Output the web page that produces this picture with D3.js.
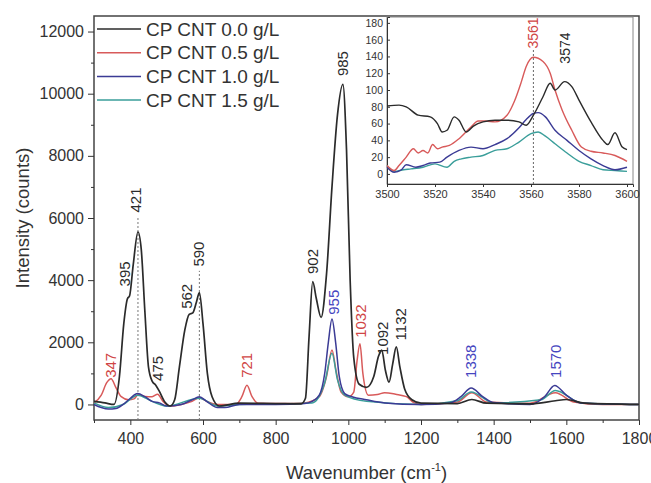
<!DOCTYPE html>
<html>
<head>
<meta charset="utf-8">
<script src="https://cdn.jsdelivr.net/npm/d3@7"></script>
<style>
  body { margin: 0; background: #fff; }
  svg { display: block; font-family: "Liberation Sans", Arial, sans-serif; }
  .axis path, .axis line { stroke: #333; }
  .axis text { fill: #333; }
</style>
</head>
<body>
<svg id="chart" width="651" height="483"></svg>
<script>
// ---- data ----
const seriesNames = ['CP CNT 0.0 g/L', 'CP CNT 0.5 g/L', 'CP CNT 1.0 g/L', 'CP CNT 1.5 g/L'];
const seriesColors = ['#2b2b2b', '#d85a5a', '#3b3b95', '#3a9e9a'];

// main spectra: [wavenumber, counts]
const cnt00 = [[300,100],[330,50],[355,0],[370,900],[382,2600],[392,3400],[398,3500],[408,4500],[421,5550],[430,5000],[440,3000],[450,1200],[460,750],[470,620],[480,420],[495,80],[510,-50],[522,150],[535,1200],[550,2400],[562,2900],[572,2950],[582,3300],[590,3600],[600,2600],[612,1000],[625,250],[645,-50],[700,40],[800,30],[870,20],[882,200],[892,2200],[902,3950],[912,3400],[925,2800],[940,4200],[955,7000],[970,9300],[985,10300],[995,8200],[1005,4000],[1015,1500],[1030,650],[1050,550],[1070,900],[1083,1550],[1092,1750],[1102,1100],[1112,720],[1122,1300],[1132,1850],[1142,1200],[1155,500],[1175,150],[1200,40],[1300,30],[1340,160],[1380,40],[1500,20],[1570,120],[1600,160],[1650,40],[1800,0]];

const cnt05 = [[300,50],[320,300],[335,700],[347,830],[360,550],[375,250],[395,150],[410,180],[422,320],[440,260],[460,250],[475,330],[490,100],[510,-50],[540,0],[570,100],[590,220],[610,100],[640,0],[690,0],[707,250],[721,620],[735,250],[752,40],[800,30],[880,50],[920,250],[940,900],[955,1750],[966,1100],[980,400],[1000,250],[1015,400],[1024,1400],[1032,1950],[1040,1000],[1055,300],[1080,320],[1100,380],[1130,330],[1160,250],[1180,60],[1200,0],[1300,80],[1340,380],[1380,80],[1500,40],[1570,380],[1620,80],[1700,0],[1800,0]];

const cnt10 = [[300,0],[320,-100],[340,-150],[360,-130],[380,0],[400,200],[420,350],[440,250],[460,100],[480,50],[500,-50],[540,0],[570,150],[590,250],[610,100],[640,-100],[660,-100],[700,0],[800,0],[880,30],[900,100],[920,300],[935,1000],[945,2000],[955,2750],[965,2000],[975,900],[990,350],[1010,250],[1050,150],[1100,50],[1200,0],[1280,50],[1310,250],[1338,530],[1370,250],[1400,60],[1500,0],[1540,250],[1568,610],[1600,300],[1640,50],[1800,0]];

const cnt15 = [[300,50],[340,-100],[380,0],[420,300],[460,100],[500,-50],[590,200],[640,-50],[700,0],[900,50],[935,700],[955,1650],[970,800],[990,300],[1050,100],[1200,0],[1300,120],[1338,400],[1400,50],[1530,150],[1570,450],[1640,50],[1800,0]];

// inset spectra (3500-3600 cm-1)
const ins00 = [[3500,81],[3505,82],[3508,80],[3513,70],[3518,68],[3521,60],[3523,50],[3525,52],[3528,68],[3530,64],[3533,50],[3536,57],[3540,62],[3545,64],[3550,64],[3555,62],[3558,58],[3561,70],[3565,92],[3568,108],[3570,100],[3574,110],[3577,104],[3580,88],[3585,62],[3590,40],[3592,35],[3595,49],[3598,32],[3600,29]];
const ins05 = [[3500,10],[3503,4],[3505,10],[3508,20],[3511,30],[3513,25],[3515,28],[3517,25],[3519,35],[3521,30],[3523,32],[3526,34],[3530,42],[3535,56],[3538,63],[3541,63],[3545,62],[3550,70],[3553,86],[3556,110],[3558,128],[3561,139],[3565,134],[3568,120],[3570,100],[3573,76],[3577,52],[3581,32],[3585,27],[3590,25],[3595,22],[3600,15]];
const ins10 = [[3500,8],[3503,2],[3506,5],[3508,11],[3512,8],[3515,10],[3518,13],[3522,14],[3525,20],[3530,28],[3535,32],[3540,30],[3545,35],[3550,42],[3555,55],[3558,65],[3561,72],[3563,73],[3566,68],[3570,52],[3575,40],[3580,28],[3585,18],[3590,10],[3595,5],[3600,8]];
const ins15 = [[3500,10],[3503,3],[3507,5],[3510,6],[3515,8],[3520,12],[3525,8],[3528,15],[3531,18],[3535,20],[3540,22],[3545,28],[3550,30],[3555,38],[3560,48],[3563,50],[3566,45],[3570,36],[3575,25],[3580,15],[3585,10],[3590,5],[3595,4],[3600,3]];

// peak labels: [label wavenumber, counts at label centre, series index, shift in cm-1]
const peakLabels = [[347,1260,1,0],[395,4200,0,-10],[421,6580,0,-5],[475,1160,0,0],[562,3480,0,-8],[590,4840,0,-2],[721,1260,1,0],[902,4600,0,0],[985,10970,0,0],[955,3290,2,6],[1032,2680,1,2],[1092,2130,0,2],[1132,2580,0,12],[1338,1390,2,0],[1570,1390,2,0]];
const peakMarks = [[421,6000],[590,4300]];
const insetPeakLabels = [[3561,168,1],[3574,150,0]];
const insetPeakMark = [3561,150];

const xTicks = [400,600,800,1000,1200,1400,1600,1800];
const yTicks = [0,2000,4000,6000,8000,10000,12000];
const insetXTicks = [3500,3520,3540,3560,3580,3600];
const insetYTicks = [0,20,40,60,80,100,120,140,160,180];

// ---- layout ----
const svg = d3.select('#chart');
const M = { left: 94, right: 639, top: 16, bottom: 420 };

const x = d3.scaleLinear().domain([300, 1800]).range([M.left, M.right]);
const y = d3.scaleLinear().domain([-500, 12500]).range([M.bottom, M.top]);

const labelColors = ['#2b2b2b', '#d04545', '#4545c0', '#3a9e9a'];

// frame
svg.append('rect')
  .attr('x', M.left).attr('y', M.top)
  .attr('width', M.right - M.left).attr('height', M.bottom - M.top)
  .attr('fill', 'none').attr('stroke', '#444').attr('stroke-width', 1.5);

// x axis
const gx = svg.append('g').attr('class', 'axis')
  .attr('transform', `translate(0,${M.bottom})`)
  .call(d3.axisBottom(x).tickValues(xTicks).tickSize(5).tickPadding(8).tickFormat(d3.format('d')));
gx.select('.domain').remove();
gx.selectAll('text').attr('font-size', 16);
svg.append('g').attr('class', 'axis')
  .attr('transform', `translate(0,${M.bottom})`)
  .call(d3.axisBottom(x).tickValues(d3.range(300, 1800, 200)).tickSize(3).tickFormat(''))
  .select('.domain').remove();

// y axis
const gy = svg.append('g').attr('class', 'axis')
  .attr('transform', `translate(${M.left},0)`)
  .call(d3.axisLeft(y).tickValues(yTicks).tickSize(6).tickPadding(4).tickFormat(d3.format('d')));
gy.select('.domain').remove();
gy.selectAll('text').attr('font-size', 16);
svg.append('g').attr('class', 'axis')
  .attr('transform', `translate(${M.left},0)`)
  .call(d3.axisLeft(y).tickValues(d3.range(1000, 12500, 2000)).tickSize(3).tickFormat(''))
  .select('.domain').remove();

// axis titles
svg.append('text')
  .attr('transform', `translate(29,${(M.top + M.bottom) / 2}) rotate(-90)`)
  .attr('text-anchor', 'middle').attr('font-size', 18.5).attr('fill', '#333')
  .text('Intensity (counts)');
const xt = svg.append('text')
  .attr('x', (M.left + M.right) / 2).attr('y', 479)
  .attr('text-anchor', 'middle').attr('font-size', 18.5).attr('fill', '#333');
xt.append('tspan').text('Wavenumber (cm');
xt.append('tspan').attr('font-size', 11).attr('dy', -8).text('-1');
xt.append('tspan').attr('dy', 8).text(')');

// dashed peak markers
svg.selectAll('line.mark').data(peakMarks).join('line')
  .attr('class', 'mark')
  .attr('x1', d => x(d[0])).attr('x2', d => x(d[0]))
  .attr('y1', M.bottom).attr('y2', d => y(d[1]))
  .attr('stroke', '#777').attr('stroke-width', 1).attr('stroke-dasharray', '2,2');

// spectra
const main = [cnt00, cnt05, cnt10, cnt15];
const line = d3.line().x(d => x(d[0])).y(d => y(d[1])).curve(d3.curveMonotoneX);
const drawOrder = [1, 3, 2, 0];
svg.append('g').selectAll('path').data(drawOrder).join('path')
  .attr('d', i => line(main[i]))
  .attr('fill', 'none')
  .attr('stroke', i => seriesColors[i])
  .attr('stroke-width', i => i === 0 ? 1.7 : 1.5);

// peak labels
svg.append('g').selectAll('text').data(peakLabels).join('text')
  .attr('transform', d => `translate(${x(d[0] + d[3])},${y(d[1])}) rotate(-90)`)
  .attr('text-anchor', 'middle').attr('dy', '0.35em')
  .attr('font-size', 15)
  .attr('fill', d => labelColors[d[2]])
  .text(d => d[0]);

// legend
const leg = svg.append('g').selectAll('g').data(seriesNames).join('g')
  .attr('transform', (d, i) => `translate(97,${29 + i * 23.7})`);
leg.append('line').attr('x1', 0).attr('x2', 44)
  .attr('stroke', (d, i) => seriesColors[i]).attr('stroke-width', 1.5);
leg.append('text').attr('x', 49).attr('dy', '0.35em')
  .attr('font-size', 19).attr('fill', '#333')
  .text(d => d);

// ---- inset ----
const I = { left: 387, right: 633, top: 17, bottom: 184 };
const ix = d3.scaleLinear().domain([3500, 3602.5]).range([I.left, I.right]);
const iy = d3.scaleLinear().domain([-12, 187]).range([I.bottom, I.top]);

svg.append('rect')
  .attr('x', I.left).attr('y', I.top)
  .attr('width', I.right - I.left).attr('height', I.bottom - I.top)
  .attr('fill', '#fff').attr('stroke', '#888').attr('stroke-width', 1);

const gix = svg.append('g').attr('class', 'axis')
  .attr('transform', `translate(0,${I.bottom})`)
  .call(d3.axisBottom(ix).tickValues(insetXTicks).tickSize(3).tickPadding(3).tickFormat(d3.format('d')));
gix.select('.domain').attr('stroke', '#666');
gix.selectAll('text').attr('font-size', 11).attr('fill', '#555');
gix.selectAll('line').attr('stroke', '#888');

const giy = svg.append('g').attr('class', 'axis')
  .attr('transform', `translate(${I.left},0)`)
  .call(d3.axisLeft(iy).tickValues(insetYTicks).tickSize(-3).tickPadding(4).tickFormat(d3.format('d')));
giy.select('.domain').attr('stroke', '#999');
giy.selectAll('text').attr('font-size', 10.5).attr('fill', '#555');
giy.selectAll('line').attr('stroke', '#999');

svg.append('line')
  .attr('x1', ix(insetPeakMark[0])).attr('x2', ix(insetPeakMark[0]))
  .attr('y1', I.bottom).attr('y2', iy(insetPeakMark[1]))
  .attr('stroke', '#666').attr('stroke-width', 1).attr('stroke-dasharray', '2,2');

const inset = [ins00, ins05, ins10, ins15];
const iline = d3.line().x(d => ix(d[0])).y(d => iy(d[1])).curve(d3.curveMonotoneX);
svg.append('g').selectAll('path').data([3, 2, 1, 0]).join('path')
  .attr('d', i => iline(inset[i]))
  .attr('fill', 'none')
  .attr('stroke', i => seriesColors[i])
  .attr('stroke-width', 1.4);

svg.append('g').selectAll('text').data(insetPeakLabels).join('text')
  .attr('transform', d => `translate(${ix(d[0])},${iy(d[1])}) rotate(-90)`)
  .attr('text-anchor', 'middle').attr('dy', '0.35em')
  .attr('font-size', 14)
  .attr('fill', d => labelColors[d[2]])
  .text(d => d[0]);
</script>
</body>
</html>
